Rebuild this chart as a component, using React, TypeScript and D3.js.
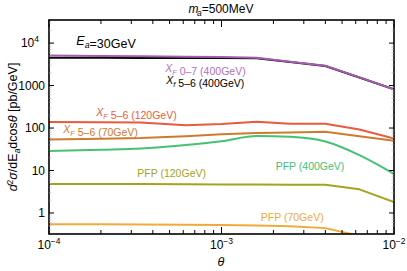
import React from 'react';
import * as d3 from 'd3';

// scattering angle grid (rad)
const theta = [1e-4, 2e-4, 3.4e-4, 6.2e-4, 1e-3, 1.6e-3, 2.5e-3, 4e-3, 6.3e-3, 1e-2];

// d2sigma / dE_a dcos(theta)  [pb/GeV]
const xf07_400 = [5100, 4980, 4900, 4800, 4700, 4520, 3650, 2930, 1560, 815];
const xf56_400 = [4500, 4500, 4480, 4460, 4440, 4400, 3600, 2900, 1550, 815];
const xf56_120 = [138, 137, 135, 116, 124, 141, 126, 126, 92, 57];
const xf56_70 = [54, 56, 58, 64, 71, 76, 79, 82, 64, 50];
const pfp_400 = [29, 31, 33, 40, 49, 65, 62, 48, 23, 8.3];
const pfp_120 = [4.8, 4.8, 4.8, 4.75, 4.7, 4.68, 4.65, 4.6, 3.6, 1.8];
const pfp_70 = [0.54, 0.54, 0.535, 0.53, 0.52, 0.51, 0.49, 0.44, 0.29, 0.15];

const xTicks = [1e-4, 1e-3, 1e-2];
const xTickExp = ['−4', '−3', '−2'];
const yTicks = [1, 10, 100, 1000, 1e4];
const yTickLabels = ['1', '10', '100', '1000', '10'];

const series = [
  { name: 'xf56_400', values: xf56_400, color: '#000000', smooth: false },
  { name: 'xf07_400', values: xf07_400, color: '#a65cb0', smooth: false },
  { name: 'xf56_120', values: xf56_120, color: '#ea5a3e', smooth: false },
  { name: 'xf56_70', values: xf56_70, color: '#cf7a2c', smooth: false },
  { name: 'pfp_400', values: pfp_400, color: '#45c172', smooth: true },
  { name: 'pfp_120', values: pfp_120, color: '#a7a21e', smooth: false },
  { name: 'pfp_70', values: pfp_70, color: '#f0aa3a', smooth: false },
];

const W = 407;
const H = 271;
const margin = { top: 20, right: 13, bottom: 37, left: 49 };
const FONT = '"Liberation Sans", Arial, sans-serif';

export default function App() {
  const innerW = W - margin.left - margin.right;
  const innerH = H - margin.top - margin.bottom;

  const x = d3.scaleLog().domain([1e-4, 1e-2]).range([0, innerW]);
  const y = d3.scaleLog().domain([0.32, 3.5e4]).range([innerH, 0]);

  const straight = d3
    .line<number>()
    .x((_, i) => x(theta[i]))
    .y((d) => y(d));
  const smooth = d3
    .line<number>()
    .x((_, i) => x(theta[i]))
    .y((d) => y(d))
    .curve(d3.curveMonotoneX);

  // minor ticks 2..9 in every decade
  const xMinor: number[] = [];
  [1e-4, 1e-3].forEach((dec) => {
    for (let k = 2; k <= 9; k++) xMinor.push(dec * k);
  });
  const yMinor: number[] = [];
  [0.1, 1, 10, 100, 1000, 1e4].forEach((dec) => {
    for (let k = 2; k <= 9; k++) {
      const v = dec * k;
      if (v > 0.32 && v < 3.5e4) yMinor.push(v);
    }
  });

  const labels = [
    { t: 1.44e-4, v: 8970, color: '#000', fs: 12.5, parts: [['E', 'i'], ['a', 'sub'], ['=30GeV', '']] },
    { t: 4.72e-4, v: 2080, color: '#b46fbf', fs: 10.5, parts: [['X', 'i'], ['F', 'sub'], [' 0–7 (400GeV)', '']] },
    { t: 4.79e-4, v: 1085, color: '#000', fs: 10.5, parts: [['X', 'i'], ['f', 'sub'], [' 5–6 (400GeV)', '']] },
    { t: 1.88e-4, v: 191, color: '#ea5a3e', fs: 10.5, parts: [['X', 'i'], ['F', 'sub'], [' 5–6 (120GeV)', '']] },
    { t: 1.21e-4, v: 76, color: '#cf7a2c', fs: 10.5, parts: [['X', 'i'], ['F', 'sub'], [' 5–6 (70GeV)', '']] },
    { t: 2.06e-3, v: 10.3, color: '#45c172', fs: 10.5, parts: [['PFP (400GeV)', '']] },
    { t: 3.25e-4, v: 7.03, color: '#a7a21e', fs: 10.5, parts: [['PFP (120GeV)', '']] },
    { t: 1.69e-3, v: 0.65, color: '#f0aa3a', fs: 10.5, parts: [['PFP (70GeV)', '']] },
  ];

  const renderParts = (parts: string[][], fs: number) =>
    parts.map(([txt, style], i) => {
      if (style === 'sub') {
        return [
          <tspan key={i} fontSize={fs * 0.7} fontStyle="italic" dy={fs * 0.25}>{txt}</tspan>,
          <tspan key={i + 'r'} dy={-fs * 0.25}>{''}</tspan>,
        ];
      }
      return (
        <tspan key={i} fontStyle={style === 'i' ? 'italic' : 'normal'}>{txt}</tspan>
      );
    });

  return (
    <svg
      width={W}
      height={H}
      style={{ position: 'absolute', left: 0, top: 0, background: '#fff' }}
      fontFamily={FONT}
    >
      <defs>
        <clipPath id="plot-clip">
          <rect x={0} y={0} width={innerW} height={innerH} />
        </clipPath>
      </defs>

      {/* title */}
      <text x={221} y={13} textAnchor="middle" fontSize={12}>
        <tspan fontStyle="italic">m</tspan>
        <tspan fontSize={8.5} fontStyle="italic" dx={-1.5} dy={3}>a</tspan>
        <tspan dy={-3}>=500MeV</tspan>
      </text>

      <g transform={`translate(${margin.left},${margin.top})`}>
        <g clipPath="url(#plot-clip)">
          {series.map((s) => (
            <path
              key={s.name}
              d={(s.smooth ? smooth : straight)(s.values) || ''}
              fill="none"
              stroke={s.color}
              strokeWidth={2}
              strokeLinejoin="round"
            />
          ))}
        </g>

        {labels.map((l, i) => (
          <text key={i} x={x(l.t)} y={y(l.v)} fill={l.color} fontSize={l.fs}>
            {renderParts(l.parts, l.fs)}
          </text>
        ))}

        {/* frame */}
        <rect x={0} y={0} width={innerW} height={innerH} fill="none" stroke="#000" strokeWidth={1.6} />

        {/* x ticks, bottom and top */}
        {xTicks.map((t) => (
          <g key={'xt' + t}>
            <line x1={x(t)} x2={x(t)} y1={innerH} y2={innerH - 7} stroke="#000" />
            <line x1={x(t)} x2={x(t)} y1={0} y2={7} stroke="#000" />
          </g>
        ))}
        {xMinor.map((t) => (
          <g key={'xm' + t}>
            <line x1={x(t)} x2={x(t)} y1={innerH} y2={innerH - 4} stroke="#000" />
            <line x1={x(t)} x2={x(t)} y1={0} y2={4} stroke="#000" />
          </g>
        ))}
        {xTicks.map((t, i) => (
          <text key={'xl' + t} x={x(t)} y={innerH + 15} textAnchor="middle" fontSize={12}>
            10<tspan dy={-5} fontSize={8.5}>{xTickExp[i]}</tspan>
          </text>
        ))}

        {/* y ticks, left and right */}
        {yTicks.map((t) => (
          <g key={'yt' + t}>
            <line x1={0} x2={5} y1={y(t)} y2={y(t)} stroke="#000" />
            <line x1={innerW} x2={innerW - 5} y1={y(t)} y2={y(t)} stroke="#000" />
          </g>
        ))}
        {yMinor.map((t) => (
          <g key={'ym' + t}>
            <line x1={0} x2={2.5} y1={y(t)} y2={y(t)} stroke="#aaa" strokeWidth={0.6} />
            <line x1={innerW} x2={innerW - 2.5} y1={y(t)} y2={y(t)} stroke="#aaa" strokeWidth={0.6} />
          </g>
        ))}
        {yTicks.map((t, i) => (
          <text key={'yl' + t} x={t === 1e4 ? -10 : -4} y={y(t) + 4} textAnchor="end" fontSize={12}>
            {yTickLabels[i]}
            {t === 1e4 ? (
              <tspan dy={-5} fontSize={8.5}>4</tspan>
            ) : null}
          </text>
        ))}
      </g>

      {/* axis titles */}
      <text x={221} y={266} textAnchor="middle" fontSize={12.5} fontStyle="italic">θ</text>
      <text
        transform={`translate(17,${margin.top + innerH / 2}) rotate(-90)`}
        textAnchor="middle"
        fontSize={12.5}
      >
        <tspan fontStyle="italic">d</tspan>
        <tspan fontSize={8.5} dy={-4}>2</tspan>
        <tspan fontStyle="italic" dy={4}>σ</tspan>
        <tspan>/dE</tspan>
        <tspan fontSize={8.5} fontStyle="italic" dy={3}>a</tspan>
        <tspan dy={-3}>dcos</tspan>
        <tspan fontStyle="italic">θ</tspan>
        <tspan> [pb/GeV]</tspan>
      </text>
    </svg>
  );
}
